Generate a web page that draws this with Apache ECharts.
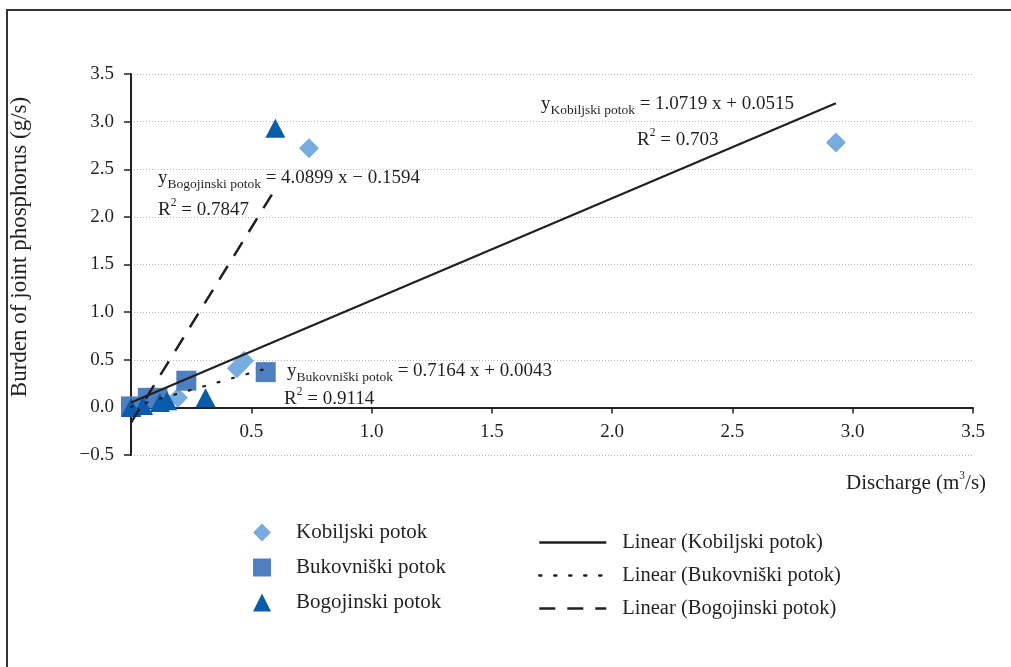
<!DOCTYPE html>
<html><head><meta charset="utf-8">
<script src="https://cdn.jsdelivr.net/npm/echarts@6/dist/echarts.min.js"></script>
<style>html,body{margin:0;padding:0;background:#fff}#c{width:1011px;height:667px}</style>
</head><body><div id="c"></div>
<script>
// ---- data ----
const xTicks = [0.5, 1.0, 1.5, 2.0, 2.5, 3.0, 3.5];
const yTicks = [-0.5, 0, 0.5, 1.0, 1.5, 2.0, 2.5, 3.0, 3.5];
const kobiljski = [[0.74, 2.72], [2.93, 2.78], [0.47, 0.49], [0.44, 0.41], [0.195, 0.10], [0.14, 0.07]];
const bukovniski = [[0.0, 0.01], [0.07, 0.10], [0.11, 0.10], [0.23, 0.28], [0.56, 0.37]];
const bogojinski = [[0.60, 2.93], [0.31, 0.10], [0.15, 0.07], [0.12, 0.05], [0.05, 0.02], [0.0, 0.0]];
// trend lines (end points of the fitted lines shown in the picture)
const trendKobiljski = [[0, 0.0515], [2.93, 3.192]];
const trendBukovniski = [[0, 0.0043], [0.56, 0.4055]];
const trendBogojinski = [[0, -0.1594], [0.60, 2.294]];
const scatterNames = ['Kobiljski potok', 'Bukovniški potok', 'Bogojinski potok'];
const lineNames = ['Linear (Kobiljski potok)', 'Linear (Bukovniški potok)', 'Linear (Bogojinski potok)'];

const FONT = 'Liberation Serif';
const TXT = '#231f20';
const chart = echarts.init(document.getElementById('c'));

function eqRich(size) {
  size = size || 19;
  return {
    m: {fontFamily: FONT, fontSize: size, color: TXT, lineHeight: 26, verticalAlign: 'middle'},
    s: {fontFamily: FONT, fontSize: 13.5, color: TXT, lineHeight: 14, verticalAlign: 'bottom'},
    p: {fontFamily: FONT, fontSize: 11.5, color: TXT, lineHeight: 12, verticalAlign: 'top'}
  };
}
function eqText(x, y, text) {
  return {type: 'text', left: x, top: y, z: 50,
    style: {text: text, rich: eqRich(), fill: TXT}};
}

chart.setOption({
  animation: false,
  backgroundColor: '#fff',
  textStyle: {fontFamily: FONT},
  grid: {left: 131, right: 38, top: 74, bottom: 212, containLabel: false},
  xAxis: {
    type: 'value', min: 0, max: 3.5, interval: 0.5, position: 'bottom', offset: -47.6,
    axisLine: {show: true, onZero: false, lineStyle: {color: '#231f20', width: 2}},
    axisTick: {show: true, inside: false, length: 6, lineStyle: {color: '#231f20', width: 1.5}},
    axisLabel: {fontFamily: FONT, fontSize: 19, color: TXT, margin: 15,
      formatter: v => xTicks.includes(+v.toFixed(2)) ? v.toFixed(1) : ''},
    splitLine: {show: false}
  },
  yAxis: {
    type: 'value', min: -0.5, max: 3.5, interval: 0.5,
    axisLine: {show: true, onZero: false, lineStyle: {color: '#231f20', width: 2}},
    axisTick: {show: true, inside: false, length: 7, lineStyle: {color: '#231f20', width: 1.5}},
    axisLabel: {fontFamily: FONT, fontSize: 19, color: TXT, margin: 17,
      formatter: v => yTicks.includes(+v.toFixed(2)) ? (v < 0 ? '\u2212' + Math.abs(v).toFixed(1) : v.toFixed(1)) : ''},
    splitLine: {show: true, lineStyle: {color: '#b8b8b8', type: [1, 2], width: 1}}
  },
  legend: [
    {data: scatterNames, orient: 'vertical', left: 253, top: 522, padding: 0,
      itemWidth: 18, itemHeight: 18, itemGap: 14,
      textStyle: {fontFamily: FONT, fontSize: 21, lineHeight: 18, color: TXT, padding: [0, 0, 0, 20]}},
    {data: lineNames, orient: 'vertical', left: 538, top: 532, padding: 0,
      itemWidth: 67, itemHeight: 18, itemGap: 12,
      itemStyle: {opacity: 0},
      lineStyle: {width: 2.6},
      textStyle: {fontFamily: FONT, fontSize: 20.5, lineHeight: 18, color: TXT, padding: [0, 0, 0, 11]}}
  ],
  series: [
    {name: scatterNames[0], type: 'scatter', data: kobiljski, symbol: 'diamond', symbolSize: 20,
      itemStyle: {color: '#78acde', opacity: 1}, z: 2},
    {name: scatterNames[1], type: 'scatter', data: bukovniski, symbol: 'rect', symbolSize: 20,
      itemStyle: {color: '#4e7fc1', opacity: 1}, z: 3},
    {name: scatterNames[2], type: 'scatter', data: bogojinski, symbol: 'triangle', symbolSize: [20, 19],
      itemStyle: {color: '#0a5baa', opacity: 1}, z: 4},
    {name: lineNames[0], type: 'line', data: trendKobiljski, symbol: 'none', z: 10,
      lineStyle: {color: '#231f20', width: 2.2, type: 'solid'}, itemStyle: {color: '#231f20'}},
    {name: lineNames[1], type: 'line', data: trendBukovniski, symbol: 'none', z: 10,
      lineStyle: {color: '#231f20', width: 2.2, type: [2, 13], cap: 'round'}, itemStyle: {color: '#231f20'}},
    {name: lineNames[2], type: 'line', data: trendBogojinski, symbol: 'none', z: 10,
      lineStyle: {color: '#231f20', width: 2.5, type: [16, 12]}, itemStyle: {color: '#231f20'}}
  ],
  graphic: [
    {type: 'rect', shape: {x: 7, y: 10, width: 1100, height: 700}, z: 0,
      style: {fill: 'none', stroke: '#333333', lineWidth: 2}},
    {type: 'text', x: 20, y: 247, rotation: Math.PI / 2, z: 50,
      style: {text: 'Burden of joint phosphorus (g/s)', fontFamily: FONT, fontSize: 23, fill: TXT,
        align: 'center', verticalAlign: 'middle'}},
    {type: 'text', left: 846, top: 470, z: 50,
      style: {text: '{m|Discharge (m}{p|3}{m|/s)}', rich: eqRich(21), fill: TXT}},
    eqText(541, 95, '{m|y}{s|Kobiljski potok}{m| = 1.0719 x + 0.0515}'),
    eqText(637, 127, '{m|R}{p|2}{m| = 0.703}'),
    eqText(158, 169, '{m|y}{s|Bogojinski potok}{m| = 4.0899 x \u2212 0.1594}'),
    eqText(158, 197, '{m|R}{p|2}{m| = 0.7847}'),
    eqText(287, 362, '{m|y}{s|Bukovniški potok}{m| = 0.7164 x + 0.0043}'),
    eqText(284, 386, '{m|R}{p|2}{m| = 0.9114}')
  ]
});
</script>
</body></html>
